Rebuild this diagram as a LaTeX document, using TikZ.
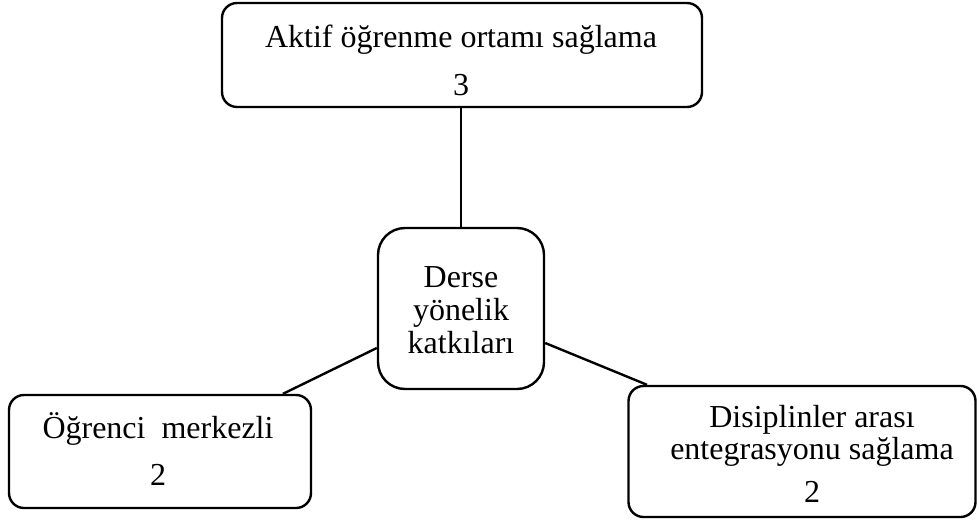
\documentclass[tikz,border=0pt]{standalone}
\usepackage{fontspec}
\setmainfont{Liberation Serif}
\begin{document}
\begin{tikzpicture}[x=1pt,y=-1pt,
  box/.style={draw=black,line width=2.4pt,fill=white,inner sep=0pt},
  link/.style={draw=black,line width=2.4pt},
  txt/.style={anchor=base,inner sep=0pt,font=\fontsize{32}{34}\selectfont}]
  \useasboundingbox (0,0) rectangle (979,522);

  % boxes
  \node[box,rounded corners=15pt,minimum width=480pt,minimum height=104pt] (top) at (462,55) {};
  \node[box,rounded corners=27pt,minimum width=166pt,minimum height=161pt] (mid) at (461,308.5) {};
  \node[box,rounded corners=15pt,minimum width=302pt,minimum height=113pt] (left) at (160,451.5) {};
  \node[box,rounded corners=15pt,minimum width=347pt,minimum height=131pt] (right) at (802,451.5) {};

  % connectors
  \draw[link] (mid.north) -- (mid.north |- top.south);
  \draw[link] ([yshift=-39.5pt]mid.west) -- ([xshift=123pt]left.north);
  \draw[link] ([yshift=-34.5pt]mid.east) -- ([xshift=-155pt]right.north);

  % labels
  \node[txt] (t1) at (461,47) {Aktif öğrenme ortamı sağlama};
  \node[txt] (t2) at (461,95) {3};
  \node[txt] (m1) at (461,287) {Derse};
  \node[txt] (m2) at (461,320) {yönelik};
  \node[txt] (m3) at (461,353) {katkıları};
  \node[txt] (l1) at (158,438) {Öğrenci\ \ merkezli};
  \node[txt] (l2) at (158,485) {2};
  \node[txt] (r1) at (812,427) {Disiplinler arası};
  \node[txt] (r2) at (812,459) {entegrasyonu sağlama};
  \node[txt] (r3) at (812,502) {2};
\end{tikzpicture}
\end{document}
